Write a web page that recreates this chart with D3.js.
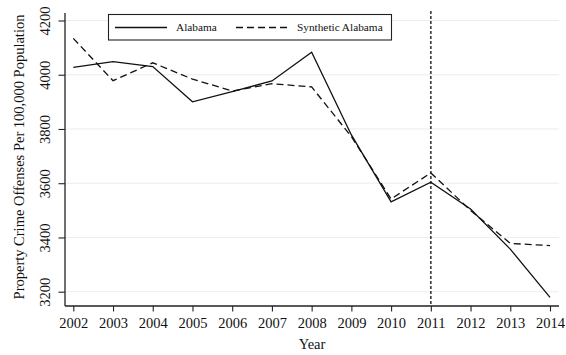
<!DOCTYPE html>
<html>
<head>
<meta charset="utf-8">
<script src="https://cdn.jsdelivr.net/npm/d3@7"></script>
<style>
  html, body { margin: 0; padding: 0; background: #fff; }
  svg { display: block; font-family: "Liberation Serif", "Times New Roman", serif; }
</style>
</head>
<body>
<svg id="chart" width="566" height="355"></svg>
<script>
// Property crime per 100,000 population, actual vs. synthetic control
const years = [2002, 2003, 2004, 2005, 2006, 2007, 2008, 2009, 2010, 2011, 2012, 2013, 2014];
const alabama = [4027, 4048, 4030, 3900, 3938, 3977, 4083, 3778, 3531, 3604, 3505, 3357, 3179];
const syntheticAlabama = [4134, 3978, 4044, 3984, 3940, 3967, 3955, 3772, 3542, 3638, 3500, 3378, 3370];
const yTicks = [3200, 3400, 3600, 3800, 4000, 4200];
const treatmentYear = 2011;
const seriesNames = ["Alabama", "Synthetic Alabama"];

const svg = d3.select("#chart");
const m = { left: 65, right: 559, top: 13, bottom: 306 };

const x = d3.scaleLinear().domain([2002, 2014]).range([73.3, 550]);
const y = d3.scaleLinear().domain([3200, 4200]).range([291.7, 20.5]);

// gridlines
svg.append("g").selectAll("line").data(yTicks).join("line")
  .attr("x1", m.left).attr("x2", m.right)
  .attr("y1", d => y(d)).attr("y2", d => y(d))
  .attr("stroke", "#e6efef").attr("stroke-width", 1);

// x axis
const xAxis = svg.append("g").attr("transform", `translate(0,${m.bottom})`)
  .call(d3.axisBottom(x).tickValues(years).tickFormat(d3.format("d")).tickSize(5.5).tickSizeOuter(0));
xAxis.select(".domain").attr("d", `M${m.left},0H${m.right}`).attr("stroke", "#222").attr("stroke-width", 1.3);
xAxis.selectAll(".tick line").attr("stroke", "#222").attr("stroke-width", 1.1);
xAxis.selectAll(".tick text").attr("dy", null).attr("y", 19)
  .attr("dominant-baseline", "middle")
  .attr("font-size", 14.5).attr("fill", "#111").attr("font-family", "Liberation Serif");

// y axis
const yAxis = svg.append("g").attr("transform", `translate(${m.left},0)`)
  .call(d3.axisLeft(y).tickValues(yTicks).tickFormat(d3.format("d")).tickSize(6.5).tickSizeOuter(0));
yAxis.select(".domain").attr("d", `M0,${m.top}V${m.bottom}`).attr("stroke", "#222").attr("stroke-width", 1.3);
yAxis.selectAll(".tick line").attr("stroke", "#222").attr("stroke-width", 1.1);
yAxis.selectAll(".tick text")
  .attr("x", null).attr("dy", null)
  .attr("transform", "translate(-18,0) rotate(-90)")
  .attr("text-anchor", "middle")
  .attr("dominant-baseline", "middle")
  .attr("font-size", 14.5).attr("fill", "#111").attr("font-family", "Liberation Serif");

// axis titles
svg.append("text")
  .attr("transform", "translate(21,157) rotate(-90)")
  .attr("text-anchor", "middle").attr("dominant-baseline", "middle")
  .attr("font-size", 14.5).attr("fill", "#111")
  .text("Property Crime Offenses Per 100,000 Population");

svg.append("text")
  .attr("x", (m.left + m.right) / 2).attr("y", 346)
  .attr("text-anchor", "middle").attr("dominant-baseline", "middle")
  .attr("font-size", 14.5).attr("fill", "#111")
  .text("Year");

// treatment year marker
svg.append("line")
  .attr("x1", x(treatmentYear)).attr("x2", x(treatmentYear))
  .attr("y1", m.top - 2).attr("y2", m.bottom)
  .attr("stroke", "#444").attr("stroke-width", 1.7)
  .attr("stroke-dasharray", "3,2");

// series lines
const line = d3.line().x((d, i) => x(years[i])).y(d => y(d));
svg.append("path").datum(syntheticAlabama)
  .attr("d", line).attr("fill", "none")
  .attr("stroke", "#111").attr("stroke-width", 1.3)
  .attr("stroke-dasharray", "7,4");
svg.append("path").datum(alabama)
  .attr("d", line).attr("fill", "none")
  .attr("stroke", "#111").attr("stroke-width", 1.3);

// legend
const legend = svg.append("g");
legend.append("rect")
  .attr("x", 108.5).attr("y", 14.5).attr("width", 283).attr("height", 25.5)
  .attr("fill", "#fff").attr("stroke", "#222").attr("stroke-width", 1.1);
const legendItems = [
  { name: seriesNames[0], x1: 115, x2: 167, tx: 176, dash: null },
  { name: seriesNames[1], x1: 236, x2: 290, tx: 297, dash: "7,4" }
];
legendItems.forEach(it => {
  legend.append("line")
    .attr("x1", it.x1).attr("x2", it.x2).attr("y1", 27.5).attr("y2", 27.5)
    .attr("stroke", "#111").attr("stroke-width", 1.3)
    .attr("stroke-dasharray", it.dash);
  legend.append("text")
    .attr("x", it.tx).attr("y", 28)
    .attr("dominant-baseline", "middle")
    .attr("font-size", 11.3).attr("fill", "#111")
    .text(it.name);
});
</script>
</body>
</html>
